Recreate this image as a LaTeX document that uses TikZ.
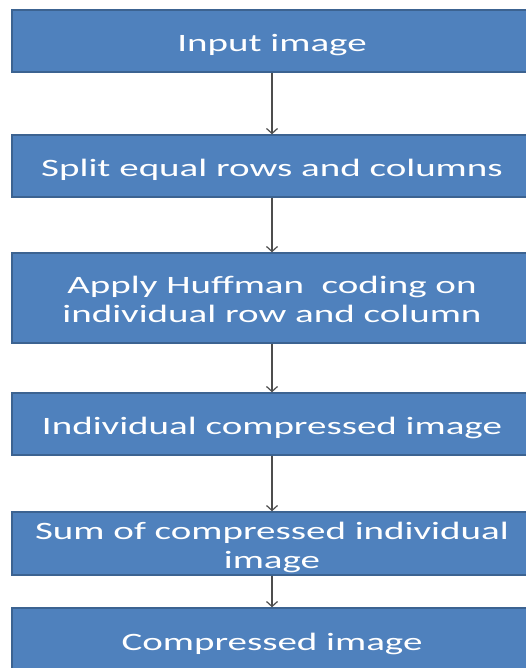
\documentclass[tikz,border=0pt]{standalone}
\usepackage{fontspec}
\setmainfont{Carlito}
\usetikzlibrary{arrows.meta}
\definecolor{boxfill}{HTML}{4F81BD}
\definecolor{boxedge}{HTML}{3C6391}
\definecolor{arrowcol}{HTML}{4D4D4D}
\newcommand\stretchtxt[1]{\raisebox{-4.5pt}[\height][\depth]{\scalebox{1.56}[1]{\begin{tabular}{@{}c@{}}#1\end{tabular}}}}
\tikzset{
  flowbox/.style={draw=boxedge, line width=1.4pt, fill=boxfill, text=white,
    minimum width=520pt, inner sep=0pt, anchor=center,
    font=\fontsize{25}{29}\selectfont},
  flowarrow/.style={draw=arrowcol, line width=1.3pt,
    -{Straight Barb[length=5pt,width=11pt,line width=1.2pt]}}
}
\begin{document}
\begin{tikzpicture}[x=1pt,y=-1pt]
\useasboundingbox (0,0) rectangle (526,668);
\clip (0,0) rectangle (526,668);
\node[flowbox, minimum height=62pt] (b1) at (272,41) {\stretchtxt{Input image}};
\node[flowbox, minimum height=62pt] (b2) at (272,166) {\stretchtxt{Split equal rows and columns}};
\node[flowbox, minimum height=90pt] (b3) at (272,298) {\stretchtxt{Apply Huffman~ coding on\\individual row and column}};
\node[flowbox, minimum height=62pt] (b4) at (272,424) {\stretchtxt{Individual compressed image}};
\node[flowbox, minimum height=63pt] (b5) at (272,543.5) {\stretchtxt{Sum of compressed individual\\image}};
\node[flowbox, minimum height=64pt] (b6) at (272,640) {\stretchtxt{Compressed image}};
\draw[flowarrow] (b1.south) -- (b2.north);
\draw[flowarrow] (b2.south) -- (b3.north);
\draw[flowarrow] (b3.south) -- (b4.north);
\draw[flowarrow] (b4.south) -- (b5.north);
\draw[flowarrow] (b5.south) -- (b6.north);
\end{tikzpicture}
\end{document}
